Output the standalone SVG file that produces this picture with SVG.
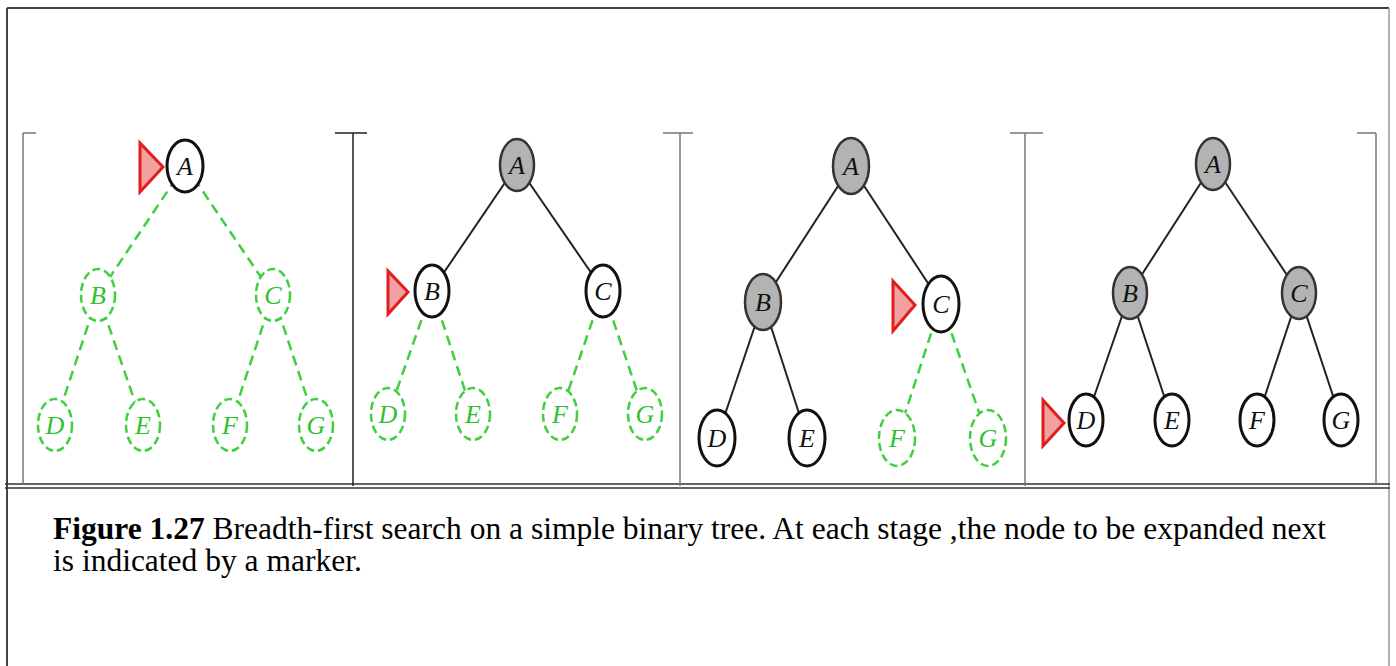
<svg xmlns="http://www.w3.org/2000/svg" width="1396" height="666" viewBox="0 0 1396 666">
<style>
.frame{stroke:#444;stroke-width:2;fill:none}
.sep{stroke:#777;stroke-width:1.5;fill:none}
.sepd{stroke:#222;stroke-width:1.5;fill:none}
.e{stroke:#222;stroke-width:2;fill:none}
.eg{stroke:#3fcf3f;stroke-width:2.5;fill:none;stroke-dasharray:10 6}
.nb ellipse{fill:#fff;stroke:#111;stroke-width:3}
.nf ellipse{fill:#b3b3b3;stroke:#333;stroke-width:2.5}
.ng ellipse{fill:#fff;stroke:#3fcf3f;stroke-width:2.5;stroke-dasharray:8 4}
text.l{font-family:"Liberation Serif",serif;font-style:italic;font-size:26px;text-anchor:middle;dominant-baseline:central;fill:#111}
.ng text.l{fill:#30c030}
.mk{fill:#f2a0a0;stroke:#e01e1e;stroke-width:3;stroke-linejoin:miter}
.cap{font-family:"Liberation Serif","Times New Roman",serif;font-size:31.5px;fill:#000}
</style>
<rect x="0" y="0" width="1396" height="666" fill="#fff"/>
<g id="frame">
<path class="frame" d="M7,8 H1389"/>
<path class="frame" d="M7,8 V666"/>
<path d="M1389,8 V666" stroke="#999" stroke-width="1.5"/>
<path d="M5,484 H1390 M5,488 H1390" stroke="#333" stroke-width="1.5"/>
<path class="sep" d="M23,133 V484 M23,133 H36"/>
<path class="sepd" d="M353,133 V486 M335,133 H367"/>
<path class="sep" d="M680,133 V486 M663,133 H693"/>
<path class="sep" d="M1025,133 V486 M1010,133 H1043"/>
<path class="sep" d="M1376,133 V484 M1357,133 H1376"/>
</g>
<g id="connectors">
<!-- panel 1 -->
<line class="eg" x1="185" y1="165" x2="98" y2="295"/>
<line class="eg" x1="185" y1="165" x2="273" y2="295"/>
<line class="eg" x1="98" y1="295" x2="55" y2="425"/>
<line class="eg" x1="98" y1="295" x2="143" y2="425"/>
<line class="eg" x1="273" y1="295" x2="230" y2="425"/>
<line class="eg" x1="273" y1="295" x2="316" y2="425"/>
<!-- panel 2 -->
<line class="e" x1="517" y1="165" x2="432" y2="290"/>
<line class="e" x1="517" y1="165" x2="603" y2="290"/>
<line class="eg" x1="432" y1="290" x2="388" y2="415"/>
<line class="eg" x1="432" y1="290" x2="473" y2="415"/>
<line class="eg" x1="603" y1="290" x2="560" y2="415"/>
<line class="eg" x1="603" y1="290" x2="645" y2="415"/>
<!-- panel 3 -->
<line class="e" x1="851" y1="166" x2="763" y2="302"/>
<line class="e" x1="851" y1="166" x2="941" y2="303"/>
<line class="e" x1="763" y1="302" x2="717" y2="438"/>
<line class="e" x1="763" y1="302" x2="807" y2="438"/>
<line class="eg" x1="941" y1="303" x2="897" y2="438"/>
<line class="eg" x1="941" y1="303" x2="988" y2="438"/>
<!-- panel 4 -->
<line class="e" x1="1213" y1="164" x2="1130" y2="293"/>
<line class="e" x1="1213" y1="164" x2="1299" y2="293"/>
<line class="e" x1="1130" y1="293" x2="1086" y2="420"/>
<line class="e" x1="1130" y1="293" x2="1172" y2="420"/>
<line class="e" x1="1299" y1="293" x2="1257" y2="420"/>
<line class="e" x1="1299" y1="293" x2="1341" y2="420"/>
</g>
<!-- panel 1 nodes -->
<g id="p1-A" class="nb"><ellipse cx="185" cy="166" rx="18" ry="26"/><text class="l" x="185" y="166">A</text></g>
<g id="p1-B" class="ng"><ellipse cx="98" cy="295" rx="17" ry="26"/><text class="l" x="98" y="295">B</text></g>
<g id="p1-C" class="ng"><ellipse cx="273" cy="295" rx="17" ry="26"/><text class="l" x="273" y="295">C</text></g>
<g id="p1-D" class="ng"><ellipse cx="55" cy="425" rx="17" ry="26"/><text class="l" x="55" y="425">D</text></g>
<g id="p1-E" class="ng"><ellipse cx="143" cy="425" rx="17" ry="26"/><text class="l" x="143" y="425">E</text></g>
<g id="p1-F" class="ng"><ellipse cx="230" cy="425" rx="17" ry="26"/><text class="l" x="230" y="425">F</text></g>
<g id="p1-G" class="ng"><ellipse cx="316" cy="425" rx="17" ry="26"/><text class="l" x="316" y="425">G</text></g>
<polygon id="p1-marker" class="mk" points="140,143 140,192 163,167"/>
<!-- panel 2 nodes -->
<g id="p2-A" class="nf"><ellipse cx="517" cy="165" rx="17" ry="26"/><text class="l" x="517" y="165">A</text></g>
<g id="p2-B" class="nb"><ellipse cx="432" cy="291" rx="17" ry="26"/><text class="l" x="432" y="291">B</text></g>
<g id="p2-C" class="nb"><ellipse cx="603" cy="291" rx="17" ry="26"/><text class="l" x="603" y="291">C</text></g>
<g id="p2-D" class="ng"><ellipse cx="388" cy="414" rx="17" ry="26"/><text class="l" x="388" y="414">D</text></g>
<g id="p2-E" class="ng"><ellipse cx="473" cy="414" rx="17" ry="26"/><text class="l" x="473" y="414">E</text></g>
<g id="p2-F" class="ng"><ellipse cx="560" cy="414" rx="17" ry="26"/><text class="l" x="560" y="414">F</text></g>
<g id="p2-G" class="ng"><ellipse cx="645" cy="414" rx="17" ry="26"/><text class="l" x="645" y="414">G</text></g>
<polygon id="p2-marker" class="mk" points="388,271 388,314 408,292"/>
<!-- panel 3 nodes -->
<g id="p3-A" class="nf"><ellipse cx="851" cy="166" rx="18" ry="28"/><text class="l" x="851" y="166">A</text></g>
<g id="p3-B" class="nf"><ellipse cx="763" cy="302" rx="18" ry="28"/><text class="l" x="763" y="302">B</text></g>
<g id="p3-C" class="nb"><ellipse cx="941" cy="304" rx="18" ry="28"/><text class="l" x="941" y="304">C</text></g>
<g id="p3-D" class="nb"><ellipse cx="717" cy="438" rx="18" ry="28"/><text class="l" x="717" y="438">D</text></g>
<g id="p3-E" class="nb"><ellipse cx="807" cy="438" rx="18" ry="28"/><text class="l" x="807" y="438">E</text></g>
<g id="p3-F" class="ng"><ellipse cx="897" cy="438" rx="18" ry="28"/><text class="l" x="897" y="438">F</text></g>
<g id="p3-G" class="ng"><ellipse cx="988" cy="438" rx="18" ry="28"/><text class="l" x="988" y="438">G</text></g>
<polygon id="p3-marker" class="mk" points="893,281 893,331 915,305"/>
<!-- panel 4 nodes -->
<g id="p4-A" class="nf"><ellipse cx="1213" cy="164" rx="17" ry="26"/><text class="l" x="1213" y="164">A</text></g>
<g id="p4-B" class="nf"><ellipse cx="1130" cy="293" rx="17" ry="26"/><text class="l" x="1130" y="293">B</text></g>
<g id="p4-C" class="nf"><ellipse cx="1299" cy="293" rx="17" ry="26"/><text class="l" x="1299" y="293">C</text></g>
<g id="p4-D" class="nb"><ellipse cx="1086" cy="420" rx="17" ry="26"/><text class="l" x="1086" y="420">D</text></g>
<g id="p4-E" class="nb"><ellipse cx="1172" cy="420" rx="17" ry="26"/><text class="l" x="1172" y="420">E</text></g>
<g id="p4-F" class="nb"><ellipse cx="1257" cy="420" rx="17" ry="26"/><text class="l" x="1257" y="420">F</text></g>
<g id="p4-G" class="nb"><ellipse cx="1341" cy="420" rx="17" ry="26"/><text class="l" x="1341" y="420">G</text></g>
<polygon id="p4-marker" class="mk" points="1043,400 1043,446 1064,423"/>
<g id="caption">
<text class="cap"><tspan x="53" y="539"><tspan font-weight="bold">Figure 1.27</tspan> Breadth-first search on a simple binary tree. At each stage ,the node to be expanded next</tspan><tspan x="53" y="571">is indicated by a marker.</tspan></text>
</g>
</svg>
